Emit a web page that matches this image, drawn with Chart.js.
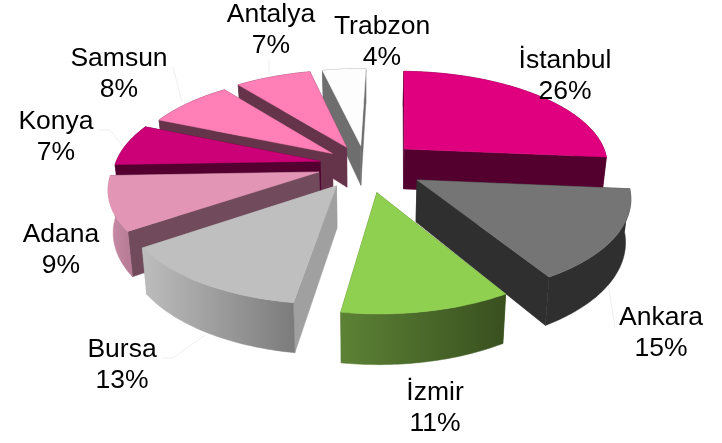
<!DOCTYPE html>
<html><head><meta charset="utf-8">
<style>html,body{margin:0;padding:0;background:#fff}canvas{display:block}</style>
<script src="https://cdn.jsdelivr.net/npm/chart.js@4"></script>
</head><body>
<canvas id="c" width="722" height="443"></canvas>
<script>
const categories = ['İstanbul','Ankara','İzmir','Bursa','Adana','Konya','Samsun','Antalya','Trabzon'];
const shares = [26,15,11,13,9,7,8,7,4];

const explode = [54,60,59,52,48,46,42,44,44];
const topColors = ['#E0007F','#757575','#90D050','#BFBFBF','#E295B5','#CC0077','#FF7FB6','#FF7FB6','#FDFDFD'];
const sideColors = ['#53002E','#2F2F2F','#4A6A2A','#A0A0A0','#714B5B','#530030','#66344A','#66344A','#6E6E6E'];
const rimFrom = ['#53002E','#2F2F2F','#5C8235','#BDBDBD','#C98CA6','#530030','#66344A','#66344A','#6E6E6E'];
const rimTo = ['#53002E','#2F2F2F','#39501F','#7C7C7C','#B97C97','#530030','#66344A','#66344A','#6E6E6E'];
const paintOrder = [8,7,6,5,4,3,0,1,2];
const labelAnchors = [[565,61],[661,318],[435,393],[122,350],[61,235],[56,122],[119,59],[271,15],[382,27]];
const leaders = [
  [[173,67],[182,102]],
  [[98,130],[110,130],[123,147]],
  [[162,358],[173,358],[205,335]],
  [[269,60],[269,75]],
  [[608,283],[615,328]]
];

const persp = {D:1368, k:0.4575, h:41, narrow:0.98};

const pie3d = {
  id:'pie3d',
  beforeDatasetsDraw(chart){
    const ctx = chart.ctx, arcs = chart.getDatasetMeta(0).data;
    const cx = arcs[0].x, cy = arcs[0].y;
    const proj = (mx,my,low)=>{
      const s = 1/(1-my/persp.D);
      let x = mx*s, y = persp.k*my*s;
      if(low){ x*=persp.narrow; y+=persp.h*s; }
      return [cx+x, cy+y];
    };
    ctx.save();
    ctx.strokeStyle='#EEEEEE'; ctx.lineWidth=1;
    leaders.forEach(l=>{ctx.beginPath();l.forEach((p,i)=>i?ctx.lineTo(p[0],p[1]):ctx.moveTo(p[0],p[1]));ctx.stroke();});
    const poly=(pts,fill)=>{
      ctx.beginPath();pts.forEach((p,i)=>i?ctx.lineTo(p[0],p[1]):ctx.moveTo(p[0],p[1]));ctx.closePath();
      ctx.fillStyle=fill;ctx.fill();ctx.strokeStyle=fill;ctx.lineWidth=0.5;ctx.stroke();
    };
    paintOrder.forEach(i=>{
      const a = arcs[i], off = a.options.offset, R = a.outerRadius;
      const mid = (a.startAngle+a.endAngle)/2;
      const ox = Math.cos(mid)*off, oy = Math.sin(mid)*off;
      const n = Math.max(8,Math.ceil((a.endAngle-a.startAngle)*60));
      const rim=[];
      for(let j=0;j<=n;j++){
        const t=a.startAngle+(a.endAngle-a.startAngle)*j/n;
        rim.push([ox+Math.cos(t)*R, oy+Math.sin(t)*R]);
      }
      const wall=(list)=>list.map(p=>proj(p[0],p[1],false)).concat(list.slice().reverse().map(p=>proj(p[0],p[1],true)));
      const apex=[ox,oy];
      const first=rim[0], last=rim[n];
      const walls=[
        {pts:wall([apex,first]), y:(apex[1]+first[1])/2, fill:sideColors[i]},
        {pts:wall([apex,last]), y:(apex[1]+last[1])/2, fill:sideColors[i]}
      ];
      const p0=proj(first[0],first[1],false), p1=proj(last[0],last[1],false);
      const g=ctx.createLinearGradient(Math.min(p0[0],p1[0]),0,Math.max(p0[0],p1[0]),0);
      g.addColorStop(0,rimFrom[i]);g.addColorStop(1,rimTo[i]);
      walls.push({pts:wall(rim), y:rim.reduce((s,p)=>s+p[1],0)/rim.length, fill:g});
      walls.sort((u,v)=>u.y-v.y).forEach(w=>poly(w.pts,w.fill));
      poly([proj(apex[0],apex[1],false)].concat(rim.map(p=>proj(p[0],p[1],false))), a.options.backgroundColor);
    });
    ctx.fillStyle='#000';ctx.font='26.5px "Liberation Sans", Arial, sans-serif';
    ctx.textAlign='center';ctx.textBaseline='middle';
    categories.forEach((c,i)=>{
      const [x,y]=labelAnchors[i];
      ctx.fillText(c,x,y);
      ctx.fillText(shares[i]+'%',x,y+30.5);
    });
    ctx.restore();
    return false;
  }
};

new Chart(document.getElementById('c'),{
  type:'pie',
  data:{labels:categories,datasets:[{data:shares,backgroundColor:topColors,offset:explode,borderWidth:0}]},
  options:{
    responsive:false,animation:false,rotation:1.5,radius:205,
    layout:{padding:{left:8,right:0,top:0,bottom:113}},
    plugins:{legend:{display:false},tooltip:{enabled:false}}
  },
  plugins:[pie3d]
});
</script>
</body></html>
